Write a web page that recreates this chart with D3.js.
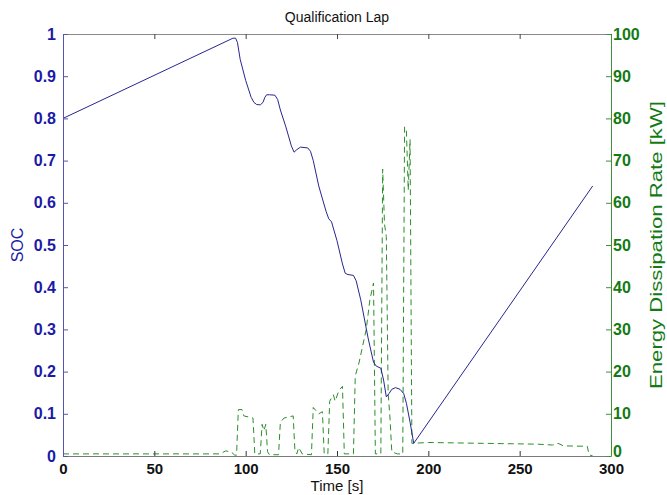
<!DOCTYPE html>
<html>
<head>
<meta charset="utf-8">
<script src="https://cdn.jsdelivr.net/npm/d3@7"></script>
<style>
  body { margin: 0; background: #fff; }
  svg { display: block; }
  text { font-family: "Liberation Sans", Arial, sans-serif; }
  .tick text { font-weight: bold; font-size: 16px; }
  .x-axis .tick text { font-size: 15px; }
</style>
</head>
<body>
<svg id="chart" width="667" height="495"></svg>
<script>
// SOC trace (left axis)
const socTime = [0, 93, 94.5, 95.5, 97, 100, 103, 104.5, 106, 108, 109.5, 110.5, 111.5, 113, 116, 117.5, 119, 122, 125, 126.5, 128, 130, 134, 135.5, 137, 140, 144, 145.5, 147, 150, 153, 154.5, 156, 159, 160.5, 163, 167, 170, 171.5, 174, 175.5, 177, 178.5, 180, 182, 184.5, 186.5, 188, 190, 192, 290];
const socValue = [0.80, 0.99, 0.99, 0.98, 0.94, 0.89, 0.85, 0.838, 0.833, 0.832, 0.838, 0.85, 0.856, 0.856, 0.855, 0.845, 0.82, 0.78, 0.735, 0.72, 0.726, 0.732, 0.73, 0.722, 0.70, 0.64, 0.58, 0.562, 0.555, 0.51, 0.455, 0.433, 0.43, 0.428, 0.415, 0.37, 0.28, 0.222, 0.213, 0.208, 0.18, 0.14, 0.148, 0.158, 0.162, 0.158, 0.148, 0.125, 0.08, 0.03, 0.64];

// dissipation rate trace (right axis, kW)
const powerTime = [0, 86, 89, 92, 94, 95, 96, 98, 99, 104, 105, 108, 109, 110, 111, 112, 113, 118, 119, 121, 126, 127, 128, 129, 131, 136, 137, 140, 142, 143, 145, 146, 148, 149, 151, 153, 154, 159, 160, 162, 164, 166, 168, 170, 171, 174, 175, 176, 177, 178, 179, 180, 183, 186, 187, 188, 189, 190, 191, 200, 230, 260, 268, 271, 274, 287, 288, 290];
const powerValue = [0.5, 0.5, 1.2, 1.0, 0.2, 0.2, 11, 11, 9.5, 9, 0.5, 0.5, 7.5, 6, 7.5, 1, 0.3, 0.3, 8, 9, 9.5, 1, 0.5, 2, 0.5, 0.3, 11.5, 10, 10.5, 0.5, 0.5, 13, 14.5, 13, 15.5, 16.5, 0.5, 0.5, 19, 22, 26, 30, 37, 41, 0.5, 0.5, 68, 55, 52, 15, 9, 1, 0.5, 0.5, 78, 77, 63, 75, 3, 3.2, 3, 2.8, 2.6, 3, 2.4, 2.3, 0.3, 0];

const timeTicks = [0, 50, 100, 150, 200, 250, 300];
const socTicks = [0, 0.1, 0.2, 0.3, 0.4, 0.5, 0.6, 0.7, 0.8, 0.9, 1];
const powerTicks = [0, 10, 20, 30, 40, 50, 60, 70, 80, 90, 100];

const blue = '#1a1aa8';
const green = '#137a13';

const svg = d3.select('#chart');
const plotLeft = 63, plotRight = 611, plotTop = 34, plotBottom = 456;

const x = d3.scaleLinear().domain([0, 300]).range([plotLeft, plotRight]);
const ySoc = d3.scaleLinear().domain([0, 1]).range([plotBottom, plotTop]);
const yPower = d3.scaleLinear().domain([0, 100]).range([plotBottom, plotTop]);

const socLine = d3.line()
  .x((d, i) => x(socTime[i]))
  .y(d => ySoc(d));

const powerLine = d3.line()
  .x((d, i) => x(powerTime[i]))
  .y(d => yPower(d));

svg.append('path')
  .attr('d', powerLine(powerValue))
  .attr('fill', 'none')
  .attr('stroke', '#2a8f2a')
  .attr('stroke-width', 1)
  .attr('stroke-dasharray', '6,4');

svg.append('path')
  .attr('d', socLine(socValue))
  .attr('fill', 'none')
  .attr('stroke', '#26268f')
  .attr('stroke-width', 1)
  .attr('stroke-linejoin', 'round');

// axes, ticks point inward like matlab
const xBottom = svg.append('g')
  .attr('class', 'x-axis')
  .attr('transform', `translate(0,${plotBottom})`)
  .call(d3.axisBottom(x).tickValues(timeTicks).tickSizeInner(-5).tickSizeOuter(0).tickPadding(7));
xBottom.select('.domain').attr('stroke', '#7a7a7a');
xBottom.selectAll('.tick line').attr('stroke', '#333');
xBottom.selectAll('.tick text').attr('fill', '#111');

const xTop = svg.append('g')
  .attr('transform', `translate(0,${plotTop})`)
  .call(d3.axisTop(x).tickValues(timeTicks).tickSizeInner(-5).tickSizeOuter(0).tickFormat(''));
xTop.select('.domain').attr('stroke', '#8a8a8a');
xTop.selectAll('.tick line').attr('stroke', '#444');

const yLeft = svg.append('g')
  .attr('transform', `translate(${plotLeft},0)`)
  .call(d3.axisLeft(ySoc).tickValues(socTicks).tickSizeInner(-5).tickSizeOuter(0).tickPadding(7).tickFormat(d => String(+d.toFixed(1))));
yLeft.select('.domain').attr('stroke', '#5555b0');
yLeft.selectAll('.tick line').attr('stroke', '#5555b0');
yLeft.selectAll('.tick text').attr('fill', blue);

const yRight = svg.append('g')
  .attr('transform', `translate(${plotRight},0)`)
  .call(d3.axisRight(yPower).tickValues(powerTicks).tickSizeInner(-5).tickSizeOuter(0).tickPadding(2));
yRight.select('.domain').attr('stroke', '#3f8f3f');
yRight.selectAll('.tick line').attr('stroke', '#3f8f3f');
yRight.selectAll('.tick text').attr('fill', green);
// the 0 on the right sits just above the 300 label
yRight.selectAll('.tick text').filter(d => d === 0).attr('dy', '0em');

// titles
svg.append('text')
  .attr('x', (plotLeft + plotRight) / 2)
  .attr('y', 22)
  .attr('text-anchor', 'middle')
  .attr('font-size', 14)
  .attr('fill', '#111')
  .text('Qualification Lap');

svg.append('text')
  .attr('x', (plotLeft + plotRight) / 2)
  .attr('y', 491)
  .attr('text-anchor', 'middle')
  .attr('font-size', 15)
  .attr('fill', '#111')
  .text('Time [s]');

svg.append('text')
  .attr('transform', `translate(23,${(plotTop + plotBottom) / 2}) rotate(-90)`)
  .attr('text-anchor', 'middle')
  .attr('font-size', 16)
  .attr('fill', blue)
  .text('SOC');

svg.append('text')
  .attr('transform', `translate(662,${(plotTop + plotBottom) / 2}) rotate(-90)`)
  .attr('text-anchor', 'middle')
  .attr('font-size', 16)
  .attr('textLength', 288)
  .attr('lengthAdjust', 'spacingAndGlyphs')
  .attr('fill', green)
  .text('Energy Dissipation Rate [kW]');
</script>
</body>
</html>
